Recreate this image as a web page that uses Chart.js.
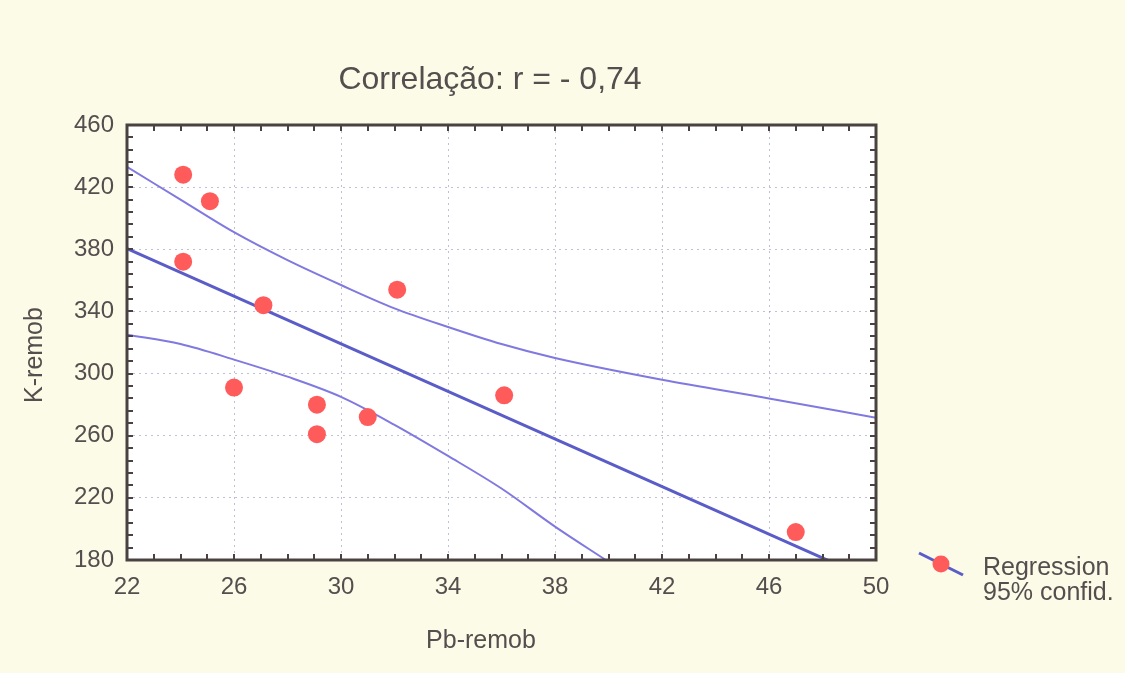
<!DOCTYPE html>
<html>
<head>
<meta charset="utf-8">
<title>Correlação Pb-remob x K-remob</title>
<script src="https://cdn.jsdelivr.net/npm/chart.js@4.4.1/dist/chart.umd.min.js"></script>
<style>
  html, body { margin: 0; padding: 0; background: #fbfbe7; }
  #wrap { position: relative; width: 1125px; height: 673px; }
</style>
</head>
<body>
<div id="wrap"><canvas id="corr" width="1125" height="673"></canvas></div>
<script>
// texts
var titleText = 'Correlação: r = - 0,74';
var xTitle = 'Pb-remob';
var yTitle = 'K-remob';
var legendLabels = ['Regression', '95% confid.'];

var pbValues = [24.1, 25.1, 24.1, 27.1, 32.1, 26.0, 29.1, 29.1, 31.0, 36.1, 47.0];
var kValues  = [428, 411, 372, 344, 354, 291, 280, 261, 272, 286, 198];

// regression line
var regX = [22, 50];
var regY = [380.5, 166];

// 95% confidence bands
var upperX = [22, 24, 26, 28, 30, 32, 34, 36, 38, 42, 46, 50];
var upperY = [433, 412, 391, 373, 357, 342, 330, 319, 310, 296, 284, 271.5];
var lowerX = [22, 24, 26, 28, 30, 32, 34, 36, 38, 39.9];
var lowerY = [325, 319, 309, 298, 285, 267, 247, 226, 201.5, 180];

// axes
var xTickValues = [22, 26, 30, 34, 38, 42, 46, 50];
var yTickValues = [180, 220, 260, 300, 340, 380, 420, 460];
var xMinorStep = 1;
var yMinorStep = 8;

function pairs(xs, ys) {
  return xs.map(function (v, i) { return { x: v, y: ys[i] }; });
}

var txtColor = '#554e4e';
var frameColor = '#4a4242';
var fontFam = '"Liberation Sans", Arial, sans-serif';

var framePlugin = {
  id: 'frame',
  beforeDraw: function (chart) {
    var a = chart.chartArea, c = chart.ctx;
    c.save();
    c.fillStyle = '#ffffff';
    c.fillRect(a.left, a.top, a.right - a.left, a.bottom - a.top);
    c.restore();
  },
  afterDraw: function (chart) {
    var c = chart.ctx, a = chart.chartArea;
    var xs = chart.scales.x, ys = chart.scales.y;
    var i, p;
    c.save();

    // small inward ticks on all four sides
    c.strokeStyle = frameColor;
    c.lineWidth = 2;
    c.beginPath();
    for (i = xs.min; i <= xs.max + 0.001; i += xMinorStep) {
      p = Math.round(xs.getPixelForValue(i));
      c.moveTo(p, a.bottom); c.lineTo(p, a.bottom - 6);
      c.moveTo(p, a.top); c.lineTo(p, a.top + 6);
    }
    for (i = ys.min; i <= ys.max + 0.001; i += yMinorStep) {
      p = Math.round(ys.getPixelForValue(i));
      c.moveTo(a.left, p); c.lineTo(a.left + 6, p);
      c.moveTo(a.right, p); c.lineTo(a.right - 6, p);
    }
    c.stroke();

    // frame
    c.lineWidth = 3;
    c.strokeRect(a.left, a.top, a.right - a.left, a.bottom - a.top);

    // title and axis titles
    c.fillStyle = txtColor;
    c.textAlign = 'center';
    c.textBaseline = 'alphabetic';
    c.font = '32px ' + fontFam;
    c.fillText(titleText, 490, 89);

    c.font = '25px ' + fontFam;
    c.fillText(xTitle, 481, 648);

    c.save();
    c.translate(42, 355);
    c.rotate(-Math.PI / 2);
    c.fillText(yTitle, 0, 0);
    c.restore();

    // legend
    c.strokeStyle = '#5a5cc8';
    c.lineWidth = 3;
    c.beginPath();
    c.moveTo(919, 553);
    c.lineTo(963, 575);
    c.stroke();
    c.fillStyle = '#ff5b5b';
    c.beginPath();
    c.arc(941, 564, 8.5, 0, Math.PI * 2);
    c.fill();

    c.fillStyle = txtColor;
    c.textAlign = 'left';
    c.font = '25px ' + fontFam;
    c.fillText(legendLabels[0], 983, 575);
    c.fillText(legendLabels[1], 983, 600);

    c.restore();
  }
};

var ctx = document.getElementById('corr').getContext('2d');
var chart = new Chart(ctx, {
  type: 'scatter',
  data: {
    datasets: [
      {
        label: 'K-remob',
        data: pairs(pbValues, kValues),
        backgroundColor: '#ff5b5b',
        borderWidth: 0,
        pointRadius: 9,
        pointHoverRadius: 9
      },
      {
        label: legendLabels[0],
        data: pairs(regX, regY),
        showLine: true,
        borderColor: '#5a5cc8',
        borderWidth: 3,
        pointRadius: 0
      },
      {
        label: legendLabels[1],
        data: pairs(upperX, upperY),
        showLine: true,
        borderColor: '#8079e0',
        borderWidth: 2,
        pointRadius: 0,
        cubicInterpolationMode: 'monotone'
      },
      {
        label: legendLabels[1] + ' (lower)',
        data: pairs(lowerX, lowerY),
        showLine: true,
        borderColor: '#8079e0',
        borderWidth: 2,
        pointRadius: 0,
        cubicInterpolationMode: 'monotone'
      }
    ]
  },
  options: {
    responsive: false,
    animation: false,
    devicePixelRatio: 1,
    layout: {
      padding: { left: 0, top: 125, right: 249, bottom: 0 }
    },
    plugins: {
      legend: { display: false },
      title: { display: false },
      tooltip: { enabled: false }
    },
    scales: {
      x: {
        type: 'linear',
        min: 22,
        max: 50,
        afterBuildTicks: function (s) {
          s.ticks = xTickValues.map(function (v) { return { value: v }; });
        },
        afterFit: function (s) { s.height = 113; },
        grid: { color: 'rgba(150,150,195,0.6)', lineWidth: 1, drawTicks: false },
        border: { display: false, dash: [2, 4] },
        ticks: {
          color: txtColor,
          font: { family: fontFam, size: 24 },
          padding: 13,
          maxRotation: 0,
          autoSkip: false
        }
      },
      y: {
        type: 'linear',
        min: 180,
        max: 460,
        afterBuildTicks: function (s) {
          s.ticks = yTickValues.map(function (v) { return { value: v }; });
        },
        afterFit: function (s) { s.width = 127; },
        grid: { color: 'rgba(150,150,195,0.6)', lineWidth: 1, drawTicks: false },
        border: { display: false, dash: [2, 4] },
        ticks: {
          color: txtColor,
          font: { family: fontFam, size: 24 },
          padding: 13,
          autoSkip: false
        }
      }
    }
  },
  plugins: [framePlugin]
});
</script>
</body>
</html>
